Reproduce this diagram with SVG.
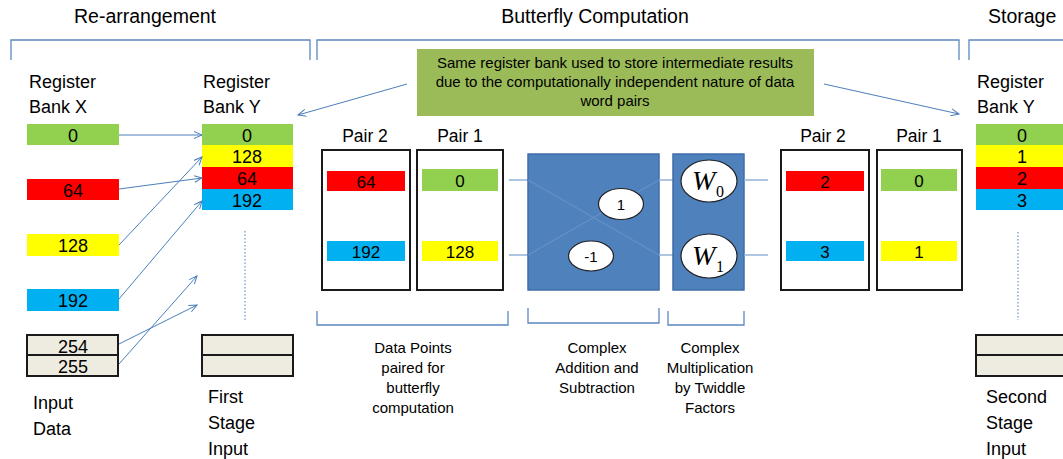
<svg xmlns="http://www.w3.org/2000/svg" width="1063" height="459" viewBox="0 0 1063 459">
<style>
text{font-family:"Liberation Sans",Arial,sans-serif;fill:#000}
.t{font-size:19.5px}
.lb{font-size:18px}
.n{font-size:18px;text-anchor:middle}
.pn{font-size:17px;text-anchor:middle}
.pl{font-size:17.5px;text-anchor:middle}
.s{font-size:15px;text-anchor:middle}
.br{fill:none;stroke:#5b87c0;stroke-width:1.3}
.ar{fill:none;stroke:#4a7ebb;stroke-width:1}
.g{fill:#92d050}.y{fill:#ffff00}.r{fill:#ff0000}.b{fill:#00b0f0}
.bx{fill:#eeece1;stroke:#1a1a1a;stroke-width:2}
.pb{fill:#fff;stroke:#1a1a1a;stroke-width:2}
.dot{stroke:#4a7ebb;stroke-width:1;stroke-dasharray:1.5,2}
.bl{fill:#4f81bd;stroke:#3f6ea8;stroke-width:1.5}
.wl{stroke:#95b3d7;stroke-width:1.5}
.el{fill:#fff;stroke:#222;stroke-width:1.2}
.w{font-family:"Liberation Serif","Times New Roman",serif;font-style:italic;font-size:28px}
.ws{font-family:"Liberation Serif","Times New Roman",serif;font-size:16px}
</style>
<defs>
<marker id="a" markerWidth="9" markerHeight="9" refX="8" refY="4" orient="auto" markerUnits="userSpaceOnUse">
<path d="M0,0.5 L8,4 L0,7.5" fill="none" stroke="#4a7ebb" stroke-width="1"/>
</marker>
</defs>

<g id="titles">
<text class="t" x="145" y="23" text-anchor="middle">Re-arrangement</text>
<text class="t" x="595" y="23" text-anchor="middle">Butterfly Computation</text>
<text class="t" x="988" y="23">Storage</text>
</g>

<g id="brackets">
<path class="br" d="M11,60 V40 H310 V60"/>
<path class="br" d="M317,60 V40 H959 V60"/>
<path class="br" d="M969,60 V40 H1063"/>
<path class="br" d="M317,311 V325 H508 V311"/>
<path class="br" d="M528,308 V323 H659 V308"/>
<path class="br" d="M668,311 V325 H744 V311"/>
</g>

<g id="bank-x">
<text class="lb" x="29" y="88">Register</text>
<text class="lb" x="29" y="113">Bank X</text>
<rect class="g" x="27" y="124" width="92" height="21"/><text class="n" x="73" y="142">0</text>
<rect class="r" x="27" y="179" width="92" height="21"/><text class="n" x="73" y="197">64</text>
<rect class="y" x="27" y="234" width="92" height="22"/><text class="n" x="73" y="252">128</text>
<rect class="b" x="27" y="289" width="92" height="22"/><text class="n" x="73" y="307">192</text>
<rect class="bx" x="27" y="335" width="91" height="20"/><text class="n" x="73" y="353">254</text>
<rect class="bx" x="27" y="355" width="91" height="21"/><text class="n" x="73" y="373">255</text>
<text class="lb" x="33" y="409">Input</text>
<text class="lb" x="33" y="435">Data</text>
</g>

<g id="bank-y1">
<text class="lb" x="203" y="88">Register</text>
<text class="lb" x="203" y="113">Bank Y</text>
<rect class="g" x="202" y="124" width="91" height="21"/><text class="n" x="247" y="142">0</text>
<rect class="y" x="202" y="145" width="91" height="22"/><text class="n" x="247" y="163">128</text>
<rect class="r" x="202" y="167" width="91" height="22"/><text class="n" x="247" y="185">64</text>
<rect class="b" x="202" y="189" width="91" height="21"/><text class="n" x="247" y="207">192</text>
<line class="dot" x1="245" y1="231" x2="245" y2="321"/>
<rect class="bx" x="202" y="335" width="91" height="20"/>
<rect class="bx" x="202" y="355" width="91" height="21"/>
<text class="lb" x="208" y="403">First</text>
<text class="lb" x="208" y="429">Stage</text>
<text class="lb" x="208" y="455">Input</text>
</g>

<g id="note">
<rect x="417" y="49" width="397" height="67" fill="#9bbb59"/>
<text class="s" x="615" y="68">Same register bank used to store intermediate results</text>
<text class="s" x="615" y="87">due to the computationally independent nature of data</text>
<text class="s" x="615" y="106">word pairs</text>
</g>

<g id="pairs-in">
<text class="pl" x="365" y="142">Pair 2</text>
<text class="pl" x="460" y="142">Pair 1</text>
<rect class="pb" x="322" y="150" width="88" height="140"/>
<rect class="pb" x="417" y="150" width="86" height="140"/>
<rect class="r" x="327" y="171" width="78" height="20"/><text class="pn" x="366" y="188">64</text>
<rect class="b" x="327" y="241" width="78" height="20"/><text class="pn" x="366" y="258">192</text>
<rect class="g" x="422" y="169" width="76" height="22"/><text class="pn" x="460" y="187">0</text>
<rect class="y" x="422" y="241" width="76" height="20"/><text class="pn" x="460" y="258">128</text>
</g>

<g id="addsub">
<line class="wl" x1="509" y1="180" x2="528" y2="180"/>
<line class="wl" x1="509" y1="255" x2="528" y2="255"/>
<rect class="bl" x="528" y="154" width="131" height="136"/>
<line x1="528" y1="180" x2="659" y2="255" stroke="#6c95c8" stroke-width="1"/>
<line x1="528" y1="255" x2="659" y2="180" stroke="#6c95c8" stroke-width="1"/>
<line class="wl" x1="659" y1="180" x2="674" y2="180"/>
<line class="wl" x1="659" y1="255" x2="674" y2="255"/>
<ellipse class="el" cx="621" cy="204" rx="22.5" ry="15.5"/><text x="621" y="210" font-size="15" text-anchor="middle">1</text>
<ellipse class="el" cx="591" cy="256" rx="22.5" ry="15"/><text x="591" y="262" font-size="15" text-anchor="middle">-1</text>
</g>

<g id="twiddle">
<rect class="bl" x="673" y="154" width="71" height="136"/>
<line class="wl" x1="744" y1="180" x2="768" y2="180"/>
<line class="wl" x1="744" y1="255" x2="768" y2="255"/>
<ellipse class="el" cx="709" cy="181" rx="28" ry="21"/>
<text class="w" x="692" y="190">W</text><text class="ws" x="716" y="197">0</text>
<ellipse class="el" cx="709" cy="256" rx="28" ry="22"/>
<text class="w" x="692" y="265">W</text><text class="ws" x="716" y="272">1</text>
</g>

<g id="pairs-out">
<text class="pl" x="823" y="142">Pair 2</text>
<text class="pl" x="919" y="142">Pair 1</text>
<rect class="pb" x="781" y="150" width="88" height="140"/>
<rect class="pb" x="877" y="150" width="85" height="140"/>
<rect class="r" x="786" y="171" width="78" height="20"/><text class="pn" x="825" y="188">2</text>
<rect class="b" x="786" y="241" width="78" height="20"/><text class="pn" x="825" y="258">3</text>
<rect class="g" x="881" y="169" width="76" height="22"/><text class="pn" x="919" y="187">0</text>
<rect class="y" x="881" y="241" width="76" height="20"/><text class="pn" x="919" y="258">1</text>
</g>

<g id="bank-y2">
<text class="lb" x="977" y="88">Register</text>
<text class="lb" x="977" y="113">Bank Y</text>
<rect class="g" x="976" y="124" width="92" height="21"/><text class="n" x="1022" y="142">0</text>
<rect class="y" x="976" y="145" width="92" height="22"/><text class="n" x="1022" y="163">1</text>
<rect class="r" x="976" y="167" width="92" height="22"/><text class="n" x="1022" y="185">2</text>
<rect class="b" x="976" y="189" width="92" height="21"/><text class="n" x="1022" y="207">3</text>
<line class="dot" x1="1018" y1="232" x2="1018" y2="320"/>
<rect class="bx" x="976" y="335" width="92" height="20"/>
<rect class="bx" x="976" y="355" width="92" height="21"/>
<text class="lb" x="986" y="403">Second</text>
<text class="lb" x="986" y="429">Stage</text>
<text class="lb" x="986" y="455">Input</text>
</g>

<g id="labels">
<text class="s" x="413" y="353">Data Points</text>
<text class="s" x="413" y="373">paired for</text>
<text class="s" x="413" y="393">butterfly</text>
<text class="s" x="413" y="413">computation</text>
<text class="s" x="597" y="353">Complex</text>
<text class="s" x="597" y="373">Addition and</text>
<text class="s" x="597" y="393">Subtraction</text>
<text class="s" x="710" y="353">Complex</text>
<text class="s" x="710" y="373">Multiplication</text>
<text class="s" x="710" y="393">by Twiddle</text>
<text class="s" x="710" y="413">Factors</text>
</g>

<g id="connectors">
<line class="ar" x1="119" y1="135" x2="202" y2="135" marker-end="url(#a)"/>
<line class="ar" x1="119" y1="189" x2="202" y2="178" marker-end="url(#a)"/>
<line class="ar" x1="119" y1="245" x2="202" y2="157" marker-end="url(#a)"/>
<line class="ar" x1="119" y1="299" x2="202" y2="201" marker-end="url(#a)"/>
<line class="ar" x1="119" y1="344" x2="197" y2="305" marker-end="url(#a)"/>
<line class="ar" x1="119" y1="364" x2="197" y2="276" marker-end="url(#a)"/>
<line class="ar" x1="407" y1="84" x2="298" y2="115" marker-end="url(#a)"/>
<line class="ar" x1="824" y1="84" x2="959" y2="114" marker-end="url(#a)"/>
</g>
</svg>
